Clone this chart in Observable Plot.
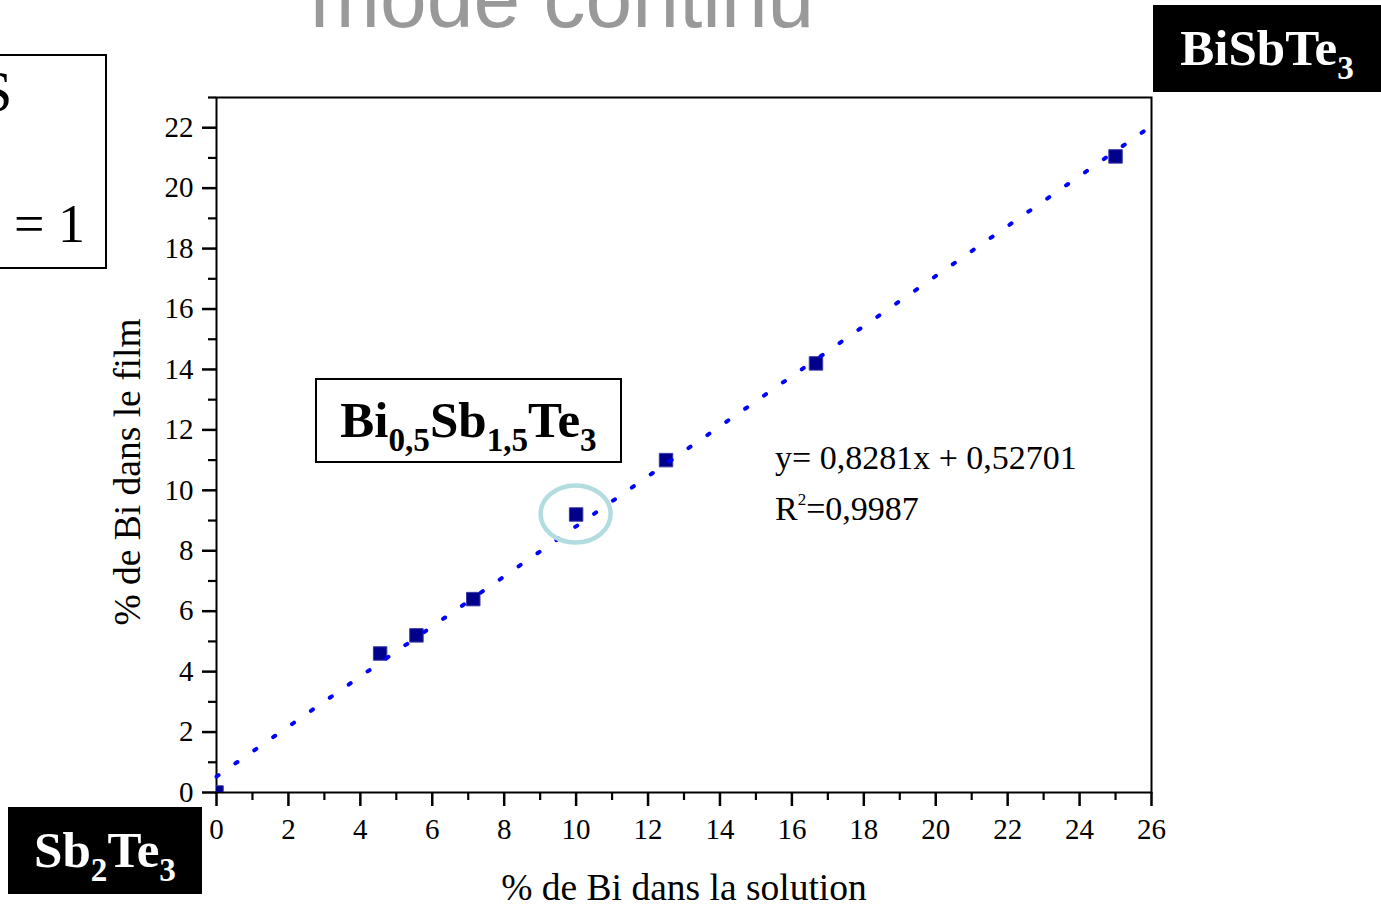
<!DOCTYPE html>
<html>
<head>
<meta charset="utf-8">
<script src="https://cdn.jsdelivr.net/npm/d3@7"></script>
<script src="https://cdn.jsdelivr.net/npm/@observablehq/plot@0.6"></script>
<style>
  html, body { margin: 0; padding: 0; background: #fff; overflow: hidden; }
  #page { position: relative; width: 1381px; height: 906px; overflow: hidden; font-family: "Liberation Serif", "DejaVu Serif", serif; }
  #chart { position: absolute; left: 0; top: 0; }
  .ov { position: absolute; white-space: nowrap; }
  #title { left: 310px; top: -44px; font: 84px/84px "Liberation Sans", Arial, sans-serif; color: #999; }
  #sumBox { left: -100px; top: 54px; width: 207px; height: 215px; box-sizing: border-box; border: 2px solid #000; }
  #sumS { left: -20px; top: 63px; font-size: 58px; line-height: 58px; }
  #sumEq { left: 14px; top: 197px; font-size: 54px; line-height: 54px; }
  .fbox { position: absolute; display: flex; align-items: center; justify-content: center; box-sizing: border-box; font-weight: bold; font-size: 51px; white-space: nowrap; }
  .fbox > span { display: block; line-height: 51px; }
  .fbox sub { font-size: 0.65em; vertical-align: -14px; line-height: 0; }
  .dark { background: #000; color: #fff; }
  #sb2te3 { left: 8px; top: 807px; width: 194px; height: 87px; }
  #bisbte3 { left: 1153px; top: 5px; width: 228px; height: 87px; }
  #bi05 { left: 315px; top: 378px; width: 307px; height: 85px; border: 2px solid #000; background: #fff; color: #000; }
  .eq { font-size: 34px; line-height: 34px; color: #000; }
  #eq1 { left: 775px; top: 441px; }
  #eq2 { left: 775px; top: 492px; }
  #eq2 sup { font-size: 0.5em; vertical-align: 15px; line-height: 0; }
</style>
</head>
<body>
<div id="page">
  <div id="chart"></div>
  <div class="ov" id="title">mode continu</div>
  <div class="ov" id="sumBox"></div>
  <div class="ov" id="sumS">S</div>
  <div class="ov" id="sumEq">= 1</div>
  <div class="fbox dark" id="sb2te3"><span>Sb<sub>2</sub>Te<sub>3</sub></span></div>
  <div class="fbox dark" id="bisbte3"><span>BiSbTe<sub>3</sub></span></div>
  <div class="fbox" id="bi05"><span>Bi<sub>0,5</sub>Sb<sub>1,5</sub>Te<sub>3</sub></span></div>
  <div class="ov eq" id="eq1"></div>
  <div class="ov eq" id="eq2"></div>
</div>
<script>
// Bi content of the electrolyte vs. Bi content measured in the deposited film (%)
const solutionBi = [0, 4.55, 5.56, 7.14, 10, 12.5, 16.67, 25];
const filmBi     = [0, 4.6, 5.2, 6.4, 9.2, 11.0, 14.2, 21.05];

// Linear fit of the film composition
const fitSlope = 0.8281;
const fitIntercept = 0.52701;
const fitR2 = 0.9987;
const fitRange = [0, 26];

// Sample marked as Bi0,5Sb1,5Te3
const markedSolutionBi = 10;
const markedFilmBi = 9.2;

// Axes
const xDomain = [0, 26];
const yDomain = [0, 23];
const xTickValues = [0, 2, 4, 6, 8, 10, 12, 14, 16, 18, 20, 22, 24, 26];
const xMinorTicks = [1, 3, 5, 7, 9, 11, 13, 15, 17, 19, 21, 23, 25];
const yTickValues = [0, 2, 4, 6, 8, 10, 12, 14, 16, 18, 20, 22];
const yMinorTicks = [1, 3, 5, 7, 9, 11, 13, 15, 17, 19, 21, 23];
const xLabel = "% de Bi dans la solution";
const yLabel = "% de Bi dans le film";

const points = solutionBi.map((x, i) => ({x, y: filmBi[i]}));
const fit = fitRange.map(x => ({x, y: fitSlope * x + fitIntercept}));

const blank = () => "";

const chart = Plot.plot({
  width: 1381,
  height: 906,
  marginLeft: 216,
  marginRight: 230,
  marginTop: 97,
  marginBottom: 114,
  x: {domain: xDomain},
  y: {domain: yDomain},
  style: {fontFamily: '"Liberation Serif", serif', fontSize: "29px", color: "#000", background: "transparent", overflow: "visible"},
  marks: [
    Plot.frame({stroke: "#000", strokeWidth: 2}),
    Plot.axisX({ticks: xMinorTicks, tickSize: 8, tickFormat: blank, label: null, strokeWidth: 2.2}),
    Plot.axisX({ticks: xTickValues, tickSize: 14, tickPadding: 12, tickFormat: d => String(d), label: null, strokeWidth: 2.5}),
    Plot.axisY({ticks: yMinorTicks, tickSize: 8, tickFormat: blank, label: null, strokeWidth: 2.2}),
    Plot.axisY({ticks: yTickValues, tickSize: 14, tickPadding: 9, tickFormat: d => String(d), label: null, strokeWidth: 2.5}),
    Plot.text([xLabel], {frameAnchor: "bottom", textAnchor: "middle", dy: 107, fontSize: 37.5}),
    Plot.text([yLabel], {frameAnchor: "left", textAnchor: "middle", rotate: -90, dx: -89, dy: 27, fontSize: 37.5}),
    Plot.dot(points, {x: "x", y: "y", symbol: "square", r: 7.6, fill: "#00008b", stroke: "#3b3bab", strokeWidth: 1, clip: true}),
    Plot.line(fit, {x: "x", y: "y", stroke: "#0000ff", strokeWidth: 4, strokeDasharray: "2.5 20.5", strokeLinecap: "round"})
  ]
});

// Ring around the Bi0,5Sb1,5Te3 sample
const sx = chart.scale("x"), sy = chart.scale("y");
d3.select(chart).append("ellipse")
  .attr("cx", sx.apply(markedSolutionBi))
  .attr("cy", sy.apply(markedFilmBi))
  .attr("rx", 35)
  .attr("ry", 28.5)
  .attr("fill", "none")
  .attr("stroke", "#b2dcdf")
  .attr("stroke-width", 4.5);

document.getElementById("chart").appendChild(chart);

const comma = v => String(v).replace(".", ",");
document.getElementById("eq1").textContent = `y= ${comma(fitSlope)}x + ${comma(fitIntercept)}`;
document.getElementById("eq2").innerHTML = `R<sup>2</sup>=${comma(fitR2)}`;
</script>
</body>
</html>
